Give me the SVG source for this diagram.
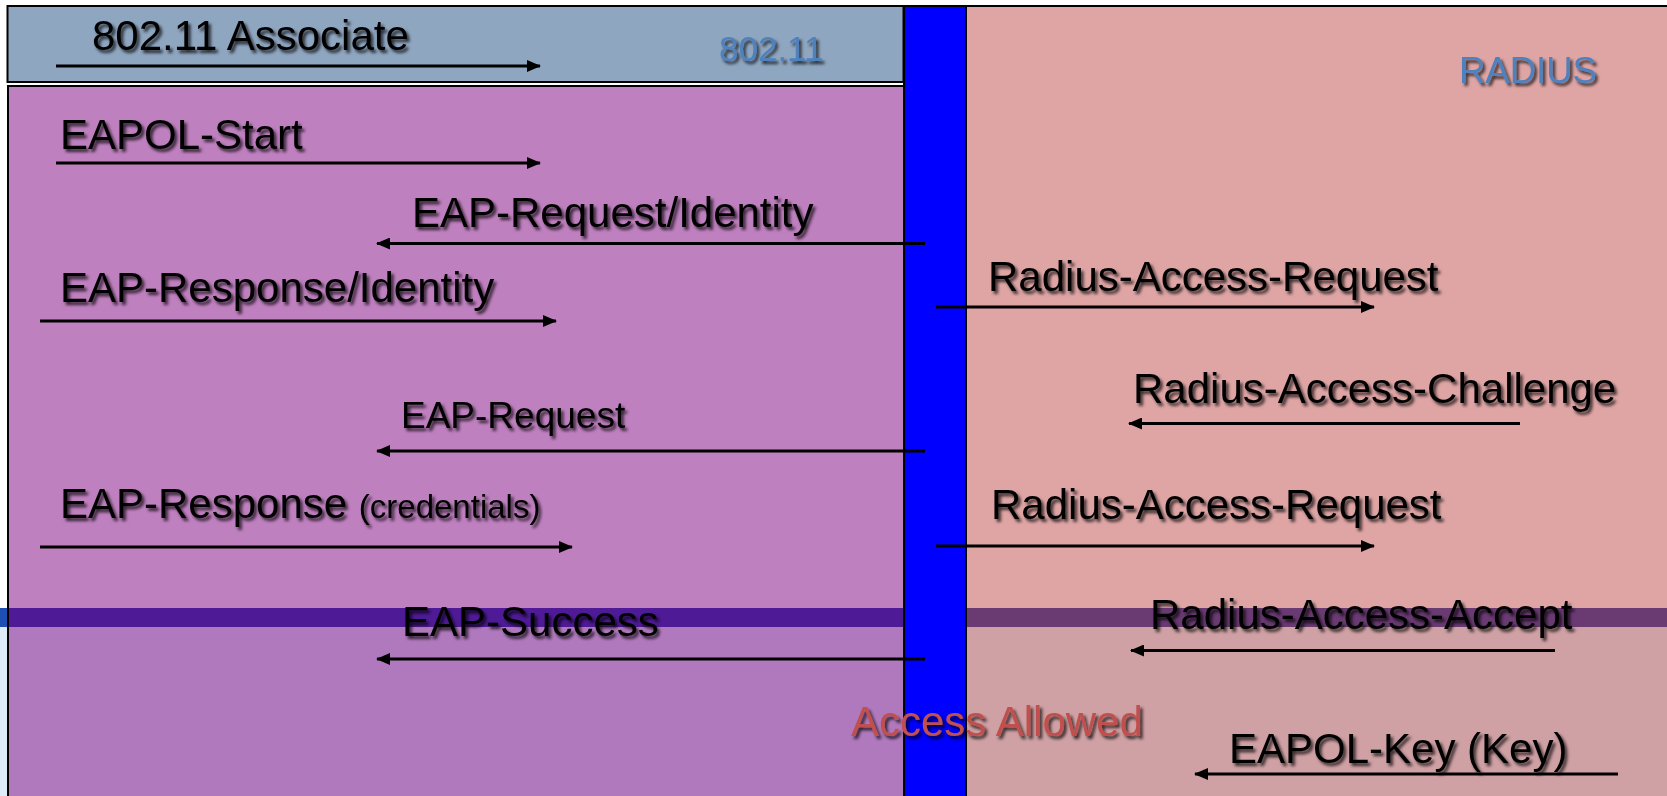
<svg xmlns="http://www.w3.org/2000/svg" width="1667" height="796" viewBox="0 0 1667 796">
<style>
.t{font-family:"Liberation Sans",Arial,sans-serif;font-size:42px;fill:#000;filter:url(#sh)}
.b{font-family:"Liberation Sans",Arial,sans-serif;fill:#4f81bd;filter:url(#sh)}
.r{font-family:"Liberation Sans",Arial,sans-serif;font-size:42px;fill:#c0504d;filter:url(#sh)}
.ln{stroke:#000;stroke-width:3;fill:none;marker-end:url(#ah)}
.bx{stroke:#000;stroke-width:2}
</style>
<defs>
<filter id="sh" x="-5%" y="-30%" width="115%" height="170%">
<feDropShadow dx="2.5" dy="3" stdDeviation="1.6" flood-color="#000" flood-opacity="0.75"/>
</filter>
<marker id="ah" markerUnits="userSpaceOnUse" markerWidth="14" markerHeight="12" refX="13" refY="6" orient="auto">
<path d="M0,0 L14,6 L0,12 z" fill="#000"/>
</marker>
</defs>
<rect x="0" y="0" width="1667" height="796" fill="#ffffff"/>
<rect x="0" y="627" width="20" height="169" fill="#deecfa"/>
<rect x="0" y="608" width="20" height="19" fill="#1e4fb5"/>
<g id="lane-80211">
<rect class="bx" x="7.5" y="6" width="896" height="76" fill="#8fa6c0"/>
<text class="b" x="719" y="61" font-size="35">802.11</text>
</g>
<g id="lane-supplicant">
<rect class="bx" x="8" y="86" width="896" height="720" fill="#bf80bf"/>
<rect x="9" y="608" width="894" height="19" fill="#4e1a96"/>
<rect x="9" y="627" width="894" height="169" fill="#b079bd"/>
</g>
<g id="lane-radius">
<rect class="bx" x="966" y="6" width="710" height="800" fill="#dfa5a5"/>
<rect x="967" y="608" width="700" height="19" fill="#6a3a72"/>
<rect x="967" y="627" width="700" height="169" fill="#cfa0a4"/>
<text class="b" x="1459" y="83" font-size="36.5">RADIUS</text>
</g>
<g id="authenticator">
<rect class="bx" x="904" y="6" width="62" height="800" fill="#0000ff"/>
</g>
<g id="connectors">
<path class="ln" d="M56,66 H540"/>
<path class="ln" d="M56,163 H540"/>
<path class="ln" d="M925,243.5 H377"/>
<path class="ln" d="M40,321 H556"/>
<path class="ln" d="M936,307 H1374"/>
<path class="ln" d="M1520,423.5 H1129"/>
<path class="ln" d="M925,451 H377"/>
<path class="ln" d="M40,547 H572"/>
<path class="ln" d="M936,546 H1374"/>
<path class="ln" d="M925,659 H377"/>
<path class="ln" d="M1555,650.5 H1131"/>
<path class="ln" d="M1618,774 H1195"/>
</g>
<g id="labels">
<text class="t" x="92" y="50">802.11 Associate</text>
<text class="t" x="60" y="149">EAPOL-Start</text>
<text class="t" x="412" y="227">EAP-Request/Identity</text>
<text class="t" x="60" y="302">EAP-Response/Identity</text>
<text class="t" x="988" y="291">Radius-Access-Request</text>
<text class="t" x="1133" y="403">Radius-Access-Challenge</text>
<text class="t" x="401" y="428" style="font-size:37px">EAP-Request</text>
<text class="t" x="60" y="518">EAP-Response <tspan style="font-size:33px">(credentials)</tspan></text>
<text class="t" x="991" y="519">Radius-Access-Request</text>
<text class="t" x="402" y="636">EAP-Success</text>
<text class="t" x="1150" y="629">Radius-Access-Accept</text>
<text class="r" x="851" y="736">Access Allowed</text>
<text class="t" x="1229" y="763">EAPOL-Key (Key)</text>
</g>
</svg>
